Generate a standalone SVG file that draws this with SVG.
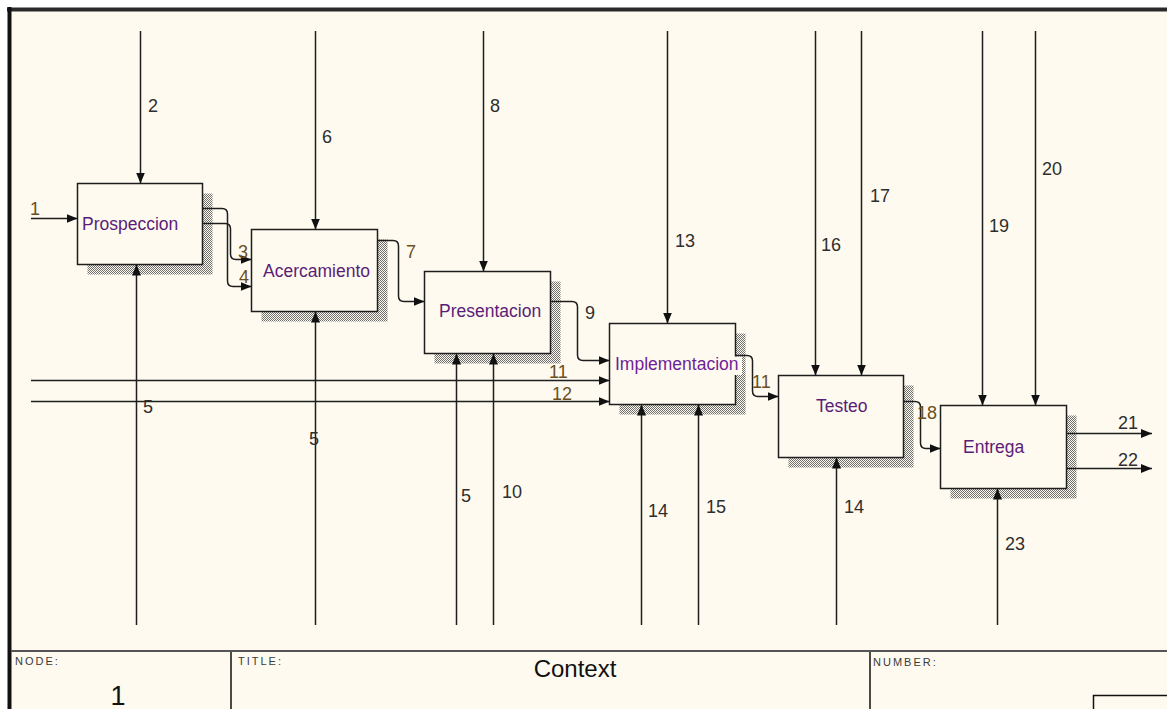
<svg xmlns="http://www.w3.org/2000/svg" width="1167" height="709" viewBox="0 0 1167 709">
<defs>
<pattern id="hatch" width="2" height="2" patternUnits="userSpaceOnUse">
<rect width="2" height="2" fill="#fefaef"/>
<rect x="0" y="0" width="1" height="1" fill="#6e6e6e"/>
<rect x="1" y="1" width="1" height="1" fill="#6e6e6e"/>
</pattern>
<marker id="ah" markerUnits="userSpaceOnUse" markerWidth="12" markerHeight="9" refX="11" refY="4.5" orient="auto">
<path d="M0,0 L11,4.5 L0,9 Z" fill="#111"/>
</marker>
<style>
.box{fill:#fefaef;stroke:#1e1e1e;stroke-width:1.5}
.sh{fill:url(#hatch)}
.bl{font-family:"Liberation Sans",Arial,sans-serif;font-size:17.5px;fill:#5a1d78}
.c{fill:none;stroke:#1e1e1e;stroke-width:1.5;marker-end:url(#ah)}
.lb{font-family:"Liberation Sans",Arial,sans-serif;font-size:18px;fill:#2e2e2e}
.lbb{font-family:"Liberation Sans",Arial,sans-serif;font-size:18px;fill:#6b4f1d}
.sm{font-family:"Liberation Sans",Arial,sans-serif;font-size:11px;letter-spacing:2px;fill:#3a3a3a}
</style>
</defs>
<rect width="1167" height="709" fill="#ffffff"/>
<rect x="9" y="9" width="1158" height="700" fill="#fefaef"/>
<line x1="7" y1="9.5" x2="1167" y2="9.5" stroke="#2a2a2a" stroke-width="4"/>
<line x1="9.5" y1="7" x2="9.5" y2="709" stroke="#111" stroke-width="4"/>

<g id="frame-table">
<line x1="11" y1="651" x2="1167" y2="651" stroke="#555" stroke-width="2.2"/>
<line x1="231" y1="652" x2="231" y2="709" stroke="#111" stroke-width="1.5"/>
<line x1="870" y1="652" x2="870" y2="709" stroke="#111" stroke-width="1.5"/>
<rect x="1093.5" y="695.5" width="100" height="40" fill="none" stroke="#111" stroke-width="1.5"/>
<text class="sm" x="15" y="665">NODE:</text>
<text class="sm" x="238" y="665">TITLE:</text>
<text class="sm" x="873" y="666">NUMBER:</text>
<text x="575" y="677" text-anchor="middle" font-family="Liberation Sans,Arial,sans-serif" font-size="24" fill="#111">Context</text>
<text x="118" y="705" text-anchor="middle" font-family="Liberation Sans,Arial,sans-serif" font-size="27" fill="#111">1</text>
</g>

<g id="node-prospeccion">
<rect class="sh" x="87.5" y="193.5" width="125" height="81"/>
<rect class="box" x="77.5" y="183.5" width="125" height="81"/>
<text class="bl" x="82" y="230">Prospeccion</text>
</g>
<g id="node-acercamiento">
<rect class="sh" x="261.5" y="239.5" width="126" height="82"/>
<rect class="box" x="251.5" y="229.5" width="126" height="82"/>
<text class="bl" x="263" y="277">Acercamiento</text>
</g>
<g id="node-presentacion">
<rect class="sh" x="434.5" y="281.5" width="126" height="82"/>
<rect class="box" x="424.5" y="271.5" width="126" height="82"/>
<text class="bl" x="439" y="317">Presentacion</text>
</g>
<g id="node-implementacion">
<rect class="sh" x="619.5" y="333.5" width="126" height="81"/>
<rect class="box" x="609.5" y="323.5" width="126" height="81"/>
<rect x="613" y="356.5" width="129" height="18.5" fill="#fefaef"/>
<text class="bl" x="615" y="370" style="fill:#6e1f96">Implementacion</text>
</g>
<g id="node-testeo">
<rect class="sh" x="788.5" y="385.5" width="125" height="82"/>
<rect class="box" x="778.5" y="375.5" width="125" height="82"/>
<text class="bl" x="816" y="411.5">Testeo</text>
</g>
<g id="node-entrega">
<rect class="sh" x="950.5" y="415.5" width="126" height="83"/>
<rect class="box" x="940.5" y="405.5" width="126" height="83"/>
<text class="bl" x="963" y="453">Entrega</text>
</g>

<g id="connectors">
<path class="c" d="M31,218.5 H77.5"/>
<path class="c" d="M31,380.5 H609.5"/>
<path class="c" d="M31,401.5 H609.5"/>
<path class="c" d="M140.5,31 V183.5"/>
<path class="c" d="M315.5,31 V229.5"/>
<path class="c" d="M483.5,31 V271.5"/>
<path class="c" d="M667.5,31 V323.5"/>
<path class="c" d="M815.5,31 V375.5"/>
<path class="c" d="M861.5,31 V375.5"/>
<path class="c" d="M982.5,31 V405.5"/>
<path class="c" d="M1035.5,31 V405.5"/>
<path class="c" d="M136.5,625 V264.5"/>
<path class="c" d="M315.5,625 V311.5"/>
<path class="c" d="M456.5,625 V353.5"/>
<path class="c" d="M493.5,625 V353.5"/>
<path class="c" d="M641.5,625 V404.5"/>
<path class="c" d="M698.5,625 V404.5"/>
<path class="c" d="M836.5,625 V457.5"/>
<path class="c" d="M997.5,625 V488.5"/>
<path class="c" d="M202.5,223.5 H225 Q230.5,223.5 230.5,229 V254 Q230.5,259.5 236,259.5 H251.5"/>
<path class="c" d="M202.5,208.5 H222 Q227.5,208.5 227.5,214 V281 Q227.5,286.5 233,286.5 H251.5"/>
<path class="c" d="M377.5,240.5 H393 Q398.5,240.5 398.5,246 V296 Q398.5,301.5 404,301.5 H424.5"/>
<path class="c" d="M550.5,301.5 H572 Q577.5,301.5 577.5,307 V355 Q577.5,360.5 583,360.5 H609.5"/>
<path class="c" d="M735.5,355.5 H747 Q752.5,355.5 752.5,361 V391 Q752.5,396.5 758,396.5 H778.5"/>
<path class="c" d="M903.5,401.5 H915 Q920.5,401.5 920.5,407 V443 Q920.5,448.5 926,448.5 H940.5"/>
<path class="c" d="M1066.5,433.5 H1152"/>
<path class="c" d="M1066.5,468.5 H1152"/>
<text class="lbb" x="30" y="215">1</text>
<text class="lb" x="148" y="112">2</text>
<text class="lbb" x="238" y="258">3</text>
<text class="lbb" x="239" y="283">4</text>
<text class="lb" x="143" y="413">5</text>
<text class="lb" x="309" y="445">5</text>
<text class="lb" x="461" y="502">5</text>
<text class="lb" x="322" y="143">6</text>
<text class="lbb" x="406" y="258">7</text>
<text class="lb" x="490" y="112">8</text>
<text class="lb" x="585" y="319">9</text>
<text class="lb" x="502" y="498">10</text>
<text class="lbb" x="549" y="378">11</text>
<text class="lbb" x="552" y="400">12</text>
<text class="lbb" x="752" y="388">11</text>
<text class="lb" x="675" y="247">13</text>
<text class="lb" x="648" y="517">14</text>
<text class="lb" x="706" y="513">15</text>
<text class="lb" x="844" y="513">14</text>
<text class="lb" x="821" y="251">16</text>
<text class="lb" x="870" y="202">17</text>
<text class="lbb" x="917" y="419">18</text>
<text class="lb" x="989" y="232">19</text>
<text class="lb" x="1042" y="175">20</text>
<text class="lb" x="1118" y="429">21</text>
<text class="lb" x="1118" y="466">22</text>
<text class="lb" x="1005" y="550">23</text>
</g>
</svg>
